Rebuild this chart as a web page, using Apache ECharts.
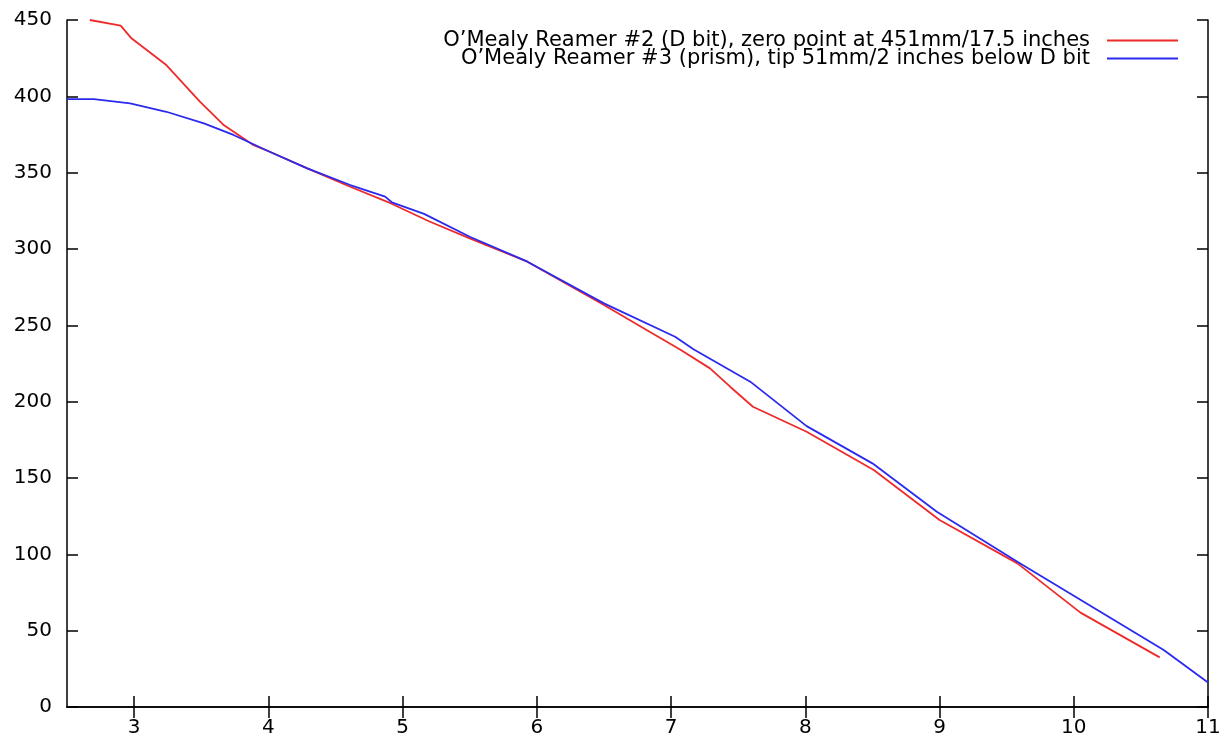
<!DOCTYPE html>
<html>
<head>
<meta charset="utf-8">
<script src="https://cdn.jsdelivr.net/npm/echarts@6/dist/echarts.min.js"></script>
<style>
html,body{margin:0;padding:0;background:#fff;}
#chart{width:1229px;height:737px;}
</style>
</head>
<body>
<div id="chart"></div>
<script>
// ---- data ----
const seriesNames = [
  "O\u2019Mealy Reamer #2 (D bit), zero point at 451mm/17.5 inches",
  "O\u2019Mealy Reamer #3 (prism), tip 51mm/2 inches below D bit"
];
const redX = [2.67, 2.9, 2.98, 3.24, 3.49, 3.67, 3.89, 4.01, 4.29, 4.61, 4.91, 5.2, 5.5, 5.93, 6.5, 6.84, 7.07, 7.29, 7.44, 7.61, 8.01, 8.51, 9.0, 9.58, 10.05, 10.64];
const redY = [450, 446.3, 438, 420.5, 396.5, 381, 368, 363.7, 352.8, 340.8, 330, 318, 307, 291.7, 263.3, 245.8, 234, 221.8, 209.8, 196.7, 180.3, 155.2, 122.5, 94.1, 61.8, 32.5];
const blueX = [2.5, 2.7, 2.97, 3.24, 3.52, 3.74, 4.01, 4.29, 4.61, 4.87, 4.92, 5.16, 5.5, 5.93, 6.5, 7.03, 7.17, 7.59, 8.01, 8.5, 8.98, 9.58, 10.67, 11.0];
const blueY = [398.2, 398.2, 395.4, 389.9, 382.3, 374.7, 363.7, 352.8, 341.9, 334.3, 330.6, 323, 308, 291.7, 264.4, 242.5, 234.2, 213.1, 184, 159.6, 127.9, 95.2, 37.3, 16];
const xTicks = [3, 4, 5, 6, 7, 8, 9, 10, 11];
const yTicks = [0, 50, 100, 150, 200, 250, 300, 350, 400, 450];

const zip = (xs, ys) => xs.map((x, i) => [x, ys[i]]);
const FONT = 'DejaVu Sans';
const RED = '#ee2a2a';
const BLUE = '#2a2aee';
const axisLine = {show: true, lineStyle: {color: '#000', width: 1.5}};
const tick = (vals) => ({show: true, inside: true, length: 11, lineStyle: {color: '#000', width: 1.5}, customValues: vals});
const legendBase = {orient: 'vertical', align: 'right', right: 51, icon: 'rect',
  itemWidth: 71, itemHeight: 2, padding: 0,
  textStyle: {fontFamily: FONT, fontSize: 21, color: '#000', padding: [0, 12, 0, 0]}};

const chart = echarts.init(document.getElementById('chart'));
chart.setOption({
  backgroundColor: '#fff',
  animation: false,
  grid: {left: 67, right: 21, top: 20, bottom: 30, containLabel: false, outerBoundsMode: 'none'},
  legend: [
    Object.assign({}, legendBase, {data: [{name: seriesNames[0], itemStyle: {color: RED}}], top: 30}),
    Object.assign({}, legendBase, {data: [{name: seriesNames[1], itemStyle: {color: BLUE}}], top: 48})
  ],
  xAxis: [
    {type: 'value', min: 2.5, max: 11, position: 'bottom',
     axisLine: axisLine, axisTick: tick(xTicks), splitLine: {show: false},
     axisLabel: {customValues: xTicks, margin: 11, fontFamily: FONT, fontSize: 20, color: '#000'}},
    {type: 'value', min: 2.5, max: 11, position: 'top',
     axisLine: axisLine, axisTick: tick(xTicks), splitLine: {show: false},
     axisLabel: {show: false}}
  ],
  yAxis: [
    {type: 'value', min: 0, max: 450, interval: 50, position: 'left',
     axisLine: axisLine, axisTick: tick(yTicks), splitLine: {show: false},
     axisLabel: {margin: 15, fontFamily: FONT, fontSize: 20, color: '#000'}},
    {type: 'value', min: 0, max: 450, interval: 50, position: 'right',
     axisLine: axisLine, axisTick: tick(yTicks), splitLine: {show: false},
     axisLabel: {show: false}}
  ],
  series: [
    {name: seriesNames[0], type: 'line', xAxisIndex: 0, yAxisIndex: 0, symbol: 'none',
     data: zip(redX, redY), lineStyle: {color: RED, width: 1.8}, itemStyle: {color: RED}},
    {name: seriesNames[1], type: 'line', xAxisIndex: 0, yAxisIndex: 0, symbol: 'none',
     data: zip(blueX, blueY), lineStyle: {color: BLUE, width: 1.8}, itemStyle: {color: BLUE}}
  ]
});
</script>
</body>
</html>
